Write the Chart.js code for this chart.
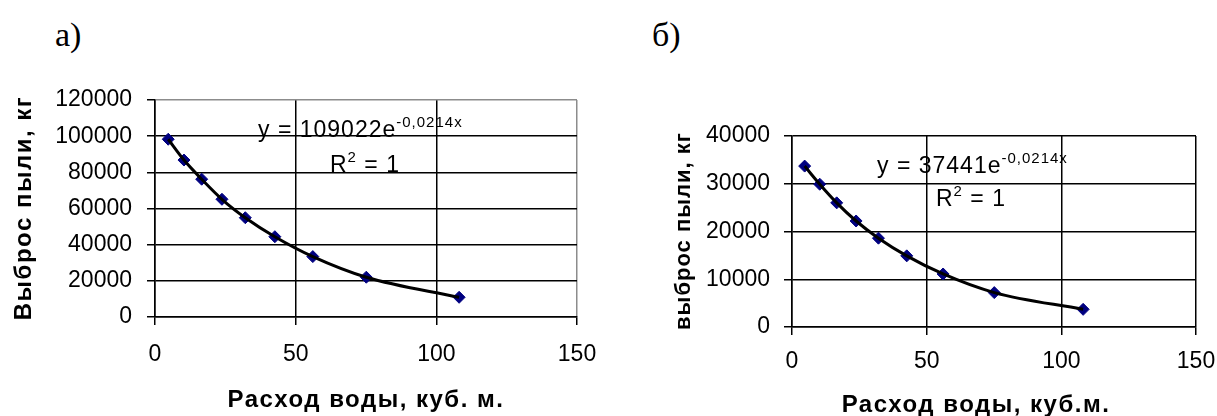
<!DOCTYPE html>
<html lang="ru">
<head>
<meta charset="UTF-8">
<title>Выброс пыли</title>
<script src="https://cdn.jsdelivr.net/npm/chart.js"></script>
<style>
  body {
    margin: 0;
    background: #fff;
    width: 1217px;
    height: 416px;
    position: relative;
    overflow: hidden;
  }
  .part {
    position: absolute;
    top: 16px;
    font-family: "Liberation Serif", "Times New Roman", serif;
    font-size: 34px;
    color: #000;
  }
  #partA { left: 55px; }
  #partB { left: 652px; }
  canvas { position: absolute; top: 0; }
  #chartA { left: 0; }
  #chartB { left: 610px; }
</style>
</head>
<body>
<div class="part" id="partA">а)</div>
<div class="part" id="partB">б)</div>
<canvas id="chartA" width="600" height="416"></canvas>
<canvas id="chartB" width="607" height="416"></canvas>

<script>
// water flow, m3 (same points on both charts)
const flowX = [4.7, 10.3, 16.6, 23.8, 32.1, 42.6, 56.1, 75.1, 108.1];
// dust emission, kg
const dustA = [98300, 86800, 76200, 65100, 54900, 44400, 33400, 22000, 10900];
const dustB = [33700, 29900, 26000, 22200, 18600, 14900, 11100, 7200, 3700];

const xTicks = [0, 50, 100, 150];
const yTicksA = [0, 20000, 40000, 60000, 80000, 100000, 120000];
const yTicksB = [0, 10000, 20000, 30000, 40000];

const eqA = "y = 109022e";
const eqB = "y = 37441e";
const eqPow = "-0,0214x";

const FONT = '"Liberation Sans", Arial, sans-serif';

// equation, R^2 and axis titles (drawn by hand to get the wide letter spacing)
function textPlugin(c) {
  return {
    id: "extraText",
    afterDraw(chart) {
      const ctx = chart.ctx;
      const a = chart.chartArea;
      ctx.save();
      ctx.fillStyle = "#000";
      ctx.letterSpacing = "1px";
      ctx.textBaseline = "alphabetic";
      ctx.textAlign = "left";

      let x = a.left + c.eqX, y = a.top + c.eqY;
      ctx.font = "23px " + FONT;
      ctx.fillText(c.eq, x, y);
      x += ctx.measureText(c.eq).width;
      ctx.font = "15px " + FONT;
      ctx.fillText(eqPow, x, y - 10);

      x = a.left + c.rX; y = a.top + c.rY;
      ctx.font = "23px " + FONT;
      ctx.fillText("R", x, y);
      x += ctx.measureText("R").width;
      ctx.font = "15px " + FONT;
      ctx.fillText("2", x, y - 10);
      x += ctx.measureText("2").width;
      ctx.font = "23px " + FONT;
      ctx.fillText(" = 1", x, y);

      // axis titles
      ctx.textAlign = "center";
      ctx.textBaseline = "middle";
      ctx.letterSpacing = c.xTitleSpacing;
      ctx.font = "bold " + c.xTitleSize + "px " + FONT;
      ctx.fillText(c.xTitle, c.xTitleX, c.xTitleY);

      ctx.translate(c.yTitleX, c.yTitleY);
      ctx.rotate(-Math.PI / 2);
      ctx.letterSpacing = c.yTitleSpacing;
      ctx.font = "bold " + c.yTitleSize + "px " + FONT;
      ctx.fillText(c.yTitle, 0, 0);
      ctx.restore();
    }
  };
}

function buildChart(id, c) {
  const pts = flowX.map((x, i) => ({ x: x, y: c.dust[i] }));
  return new Chart(document.getElementById(id), {
    type: "scatter",
    data: {
      datasets: [
        {
          data: pts,
          showLine: true,
          borderColor: "#000",
          borderWidth: 3,
          pointRadius: 0,
          cubicInterpolationMode: "monotone",
          fill: false
        },
        {
          data: pts,
          showLine: false,
          pointStyle: "rectRot",
          pointRadius: 6,
          backgroundColor: "#000080",
          borderColor: "#000080",
          borderWidth: 1
        }
      ]
    },
    options: {
      responsive: false,
      animation: false,
      devicePixelRatio: 1,
      layout: { padding: c.pad },
      plugins: { legend: { display: false }, tooltip: { enabled: false } },
      scales: {
        x: {
          type: "linear",
          min: 0,
          max: 150,
          afterBuildTicks: s => { s.ticks = xTicks.map(v => ({ value: v })); },
          afterFit: s => { s.height = c.xH; s.paddingLeft = 0; s.paddingRight = 0; },
          grid: {
            color: g => (c.grayEdge && g.tick && g.tick.value === 150) ? "#8c8c8c" : "#000",
            lineWidth: 1.5,
            tickLength: 8,
            tickColor: "#000",
            tickWidth: 1.5
          },
          border: { color: "#000", width: 1.5 },
          ticks: {
            color: "#000",
            font: { family: FONT, size: 23 },
            padding: c.xTickPad,
            maxRotation: 0,
            autoSkip: false,
            callback: v => String(v)
          }
        },
        y: {
          type: "linear",
          min: 0,
          max: c.yMax,
          afterBuildTicks: s => { s.ticks = c.yTicks.map(v => ({ value: v })); },
          afterFit: s => { s.width = c.yW; },
          grid: {
            color: g => (c.grayEdge && g.tick && g.tick.value === c.yMax) ? "#8c8c8c" : "#000",
            lineWidth: 1.5,
            tickLength: 8,
            tickColor: "#000",
            tickWidth: 1.5
          },
          border: { color: "#000", width: 1.5 },
          ticks: {
            color: "#000",
            font: { family: FONT, size: 23 },
            padding: c.yTickPad,
            autoSkip: false,
            callback: v => String(v)
          }
        }
      }
    },
    plugins: [textPlugin(c)]
  });
}

buildChart("chartA", {
  dust: dustA,
  yMax: 120000,
  yTicks: yTicksA,
  pad: { top: 100, right: 23, left: 0, bottom: 0 },
  xH: 99,
  yW: 155,
  grayEdge: true,
  xTickPad: 16,
  yTickPad: 15,
  xTitle: "Расход воды, куб. м.",
  xTitleSize: 24, xTitleSpacing: "1.5px", xTitleX: 366, xTitleY: 400,
  yTitle: "Выброс пыли, кг",
  yTitleSize: 24, yTitleSpacing: "1.5px", yTitleX: 24, yTitleY: 208,
  eq: eqA, eqX: 103, eqY: 37, rX: 175, rY: 72
});

buildChart("chartB", {
  dust: dustB,
  yMax: 40000,
  yTicks: yTicksB,
  pad: { top: 136, right: 21, left: 0, bottom: 0 },
  xH: 89,
  yW: 182,
  grayEdge: false,
  xTickPad: 13,
  yTickPad: 14,
  xTitle: "Расход воды, куб.м.",
  xTitleSize: 24, xTitleSpacing: "1.5px", xTitleX: 366, xTitleY: 405,
  yTitle: "выброс пыли, кг",
  yTitleSize: 22, yTitleSpacing: "1px", yTitleX: 74, yTitleY: 231,
  eq: eqB, eqX: 85, eqY: 37, rX: 144, rY: 70
});
</script>
</body>
</html>
